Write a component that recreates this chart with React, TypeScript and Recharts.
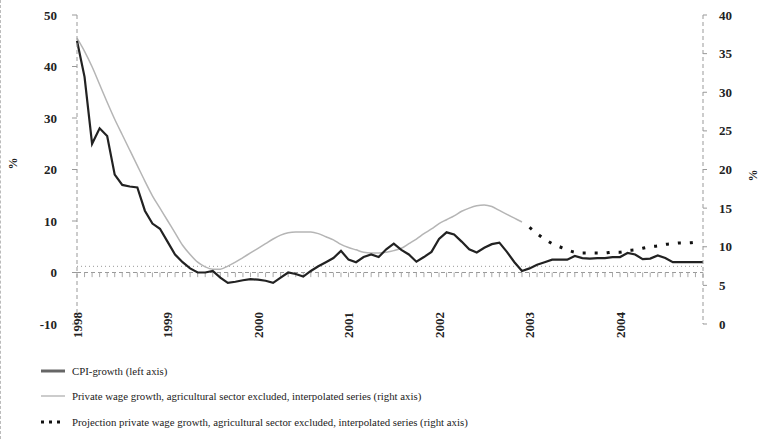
import { ComposedChart, Line, XAxis, YAxis, ReferenceLine } from "recharts"

const months = Array.from({ length: 84 }, (_, i) => i)
const yearTicks = [0, 12, 24, 36, 48, 60, 72]
const yearLabels = ["1998", "1999", "2000", "2001", "2002", "2003", "2004"]

const cpi = [
  45, 38, 25, 28, 26.5, 19, 17, 16.7, 16.5, 12, 9.5, 8.5,
  6, 3.5, 2, 0.8, 0, 0, 0.3, -1, -2, -1.8, -1.5, -1.3,
  -1.4, -1.6, -2, -1, 0, -0.3, -0.8, 0.3, 1.2, 2, 2.8, 4.2,
  2.5, 2, 3, 3.5, 3, 4.5, 5.6, 4.4, 3.5, 2.1, 3, 4,
  6.5, 7.8, 7.4, 6, 4.5, 3.9, 4.8, 5.5, 5.8, 4, 2, 0.3,
  0.8, 1.5, 2, 2.5, 2.5, 2.5, 3.2, 2.8, 2.7, 2.8, 2.8, 3,
  3, 3.8, 3.5, 2.6, 2.7, 3.3, 2.8, 2, 2, 2, 2, 2,
]

const wage = [
  37, 35.3, 33.3, 31, 28.7, 26.5, 24.5, 22.5, 20.5, 18.5, 16.6, 15,
  13.4, 11.8, 10.2, 9, 8, 7.4, 7.1, 7.1, 7.5, 8, 8.6, 9.2,
  9.8, 10.4, 11, 11.5, 11.8, 11.9, 11.9, 11.9, 11.7, 11.3, 10.9, 10.3,
  9.9, 9.6, 9.3, 9.2, 9.2, 9.3, 9.5, 9.8, 10.4, 11, 11.7, 12.3,
  13, 13.5, 14, 14.6, 15, 15.3, 15.4, 15.2, 14.7, 14.2, 13.7, 13.2,
]

// projection starts in Jan 2003 (month 60)
const projStart = 60
const projection = [
  12.5, 11.7, 11, 10.4, 10, 9.6, 9.3, 9.2, 9.2, 9.2, 9.2, 9.3,
  9.3, 9.5, 9.6, 9.8, 10, 10.1, 10.3, 10.4, 10.5, 10.5, 10.6,
]

const leftTicks = [-10, 0, 10, 20, 30, 40, 50]
const rightTicks = [0, 5, 10, 15, 20, 25, 30, 35, 40]

const data = months.map((m) => ({
  m,
  cpi: cpi[m],
  wage: m < wage.length ? wage[m] : null,
  proj: m >= projStart && m - projStart < projection.length ? projection[m - projStart] : null,
}))

const font = "'Liberation Serif', 'Times New Roman', serif"

function YearTick({ x, y, payload }: any) {
  const idx = yearTicks.indexOf(payload.value)
  return (
    <text
      x={x}
      y={y + 6}
      transform={`rotate(-90 ${x} ${y + 6})`}
      textAnchor="start"
      dominantBaseline="central"
      fontFamily={font}
      fontSize={13}
      fontWeight="bold"
      fill="#222"
    >
      {yearLabels[idx]}
    </text>
  )
}

const legendItems = [
  { label: "CPI-growth (left axis)", color: "#666", width: 3, dash: "none" },
  { label: "Private wage growth, agricultural sector excluded, interpolated series (right axis)", color: "#bbb", width: 1.5, dash: "none" },
  { label: "Projection private wage growth, agricultural sector excluded, interpolated series (right axis)", color: "#111", width: 3, dash: "3 5" },
]

export default function App() {
  return (
    <div style={{ position: "absolute", left: 0, top: 0, width: 763, height: 439, background: "#fff", borderLeft: "1px dashed #bbb", boxSizing: "border-box" }}>
      <ComposedChart width={762} height={340} data={data} margin={{ top: 15, right: 0, bottom: 0, left: 0 }}>
        <XAxis
          dataKey="m"
          type="number"
          domain={[0, 83]}
          ticks={yearTicks}
          tick={<YearTick />}
          axisLine={false}
          tickLine={false}
          height={16}
          interval={0}
        />
        <YAxis
          yAxisId="left"
          domain={[-10, 50]}
          ticks={leftTicks}
          width={76}
          axisLine={{ stroke: "#999", strokeDasharray: "4 3" }}
          tickLine={{ stroke: "#999" }}
          tickSize={5}
          tickMargin={15}
          tick={{ fontFamily: font, fontSize: 13, fontWeight: "bold", fill: "#222" }}
          label={{ value: "%", angle: -90, position: "insideLeft", offset: 12, fontFamily: font, fontSize: 12, fontWeight: "bold", fill: "#222" }}
        />
        <YAxis
          yAxisId="right"
          orientation="right"
          domain={[0, 40]}
          ticks={rightTicks}
          width={60}
          axisLine={{ stroke: "#999", strokeDasharray: "4 3" }}
          tickLine={{ stroke: "#999" }}
          tickSize={4}
          tickMargin={12}
          tick={{ fontFamily: font, fontSize: 13, fontWeight: "bold", fill: "#222" }}
          label={{ value: "%", angle: -90, position: "insideRight", offset: 10, fontFamily: font, fontSize: 12, fontWeight: "bold", fill: "#222" }}
        />
        <ReferenceLine yAxisId="left" y={1.2} stroke="#999" strokeDasharray="1 3" />
        <ReferenceLine yAxisId="left" y={0} stroke="#999" strokeDasharray="4 3" />
        {months.map((m) => (
          <ReferenceLine
            key={m}
            yAxisId="left"
            segment={[{ x: m, y: 0 }, { x: m, y: -0.9 }]}
            stroke="#aaa"
          />
        ))}
        <Line yAxisId="right" dataKey="wage" stroke="#b5b5b5" strokeWidth={1.5} dot={false} type="monotone" isAnimationActive={false} />
        <Line yAxisId="right" dataKey="proj" stroke="#111" strokeWidth={3} strokeDasharray="3 9" dot={false} type="monotone" isAnimationActive={false} />
        <Line yAxisId="left" dataKey="cpi" stroke="#222" strokeWidth={2.2} dot={false} type="linear" isAnimationActive={false} />
      </ComposedChart>
      <div style={{ position: "absolute", left: 40, top: 358, fontFamily: font, fontSize: 10.8, color: "#222" }}>
        {legendItems.map((it) => (
          <div key={it.label} style={{ display: "flex", alignItems: "center", height: 25.5 }}>
            <svg width={24} height={8} style={{ marginRight: 7 }}>
              <line x1={0} y1={4} x2={24} y2={4} stroke={it.color} strokeWidth={it.width} strokeDasharray={it.dash} />
            </svg>
            <span>{it.label}</span>
          </div>
        ))}
      </div>
    </div>
  )
}
